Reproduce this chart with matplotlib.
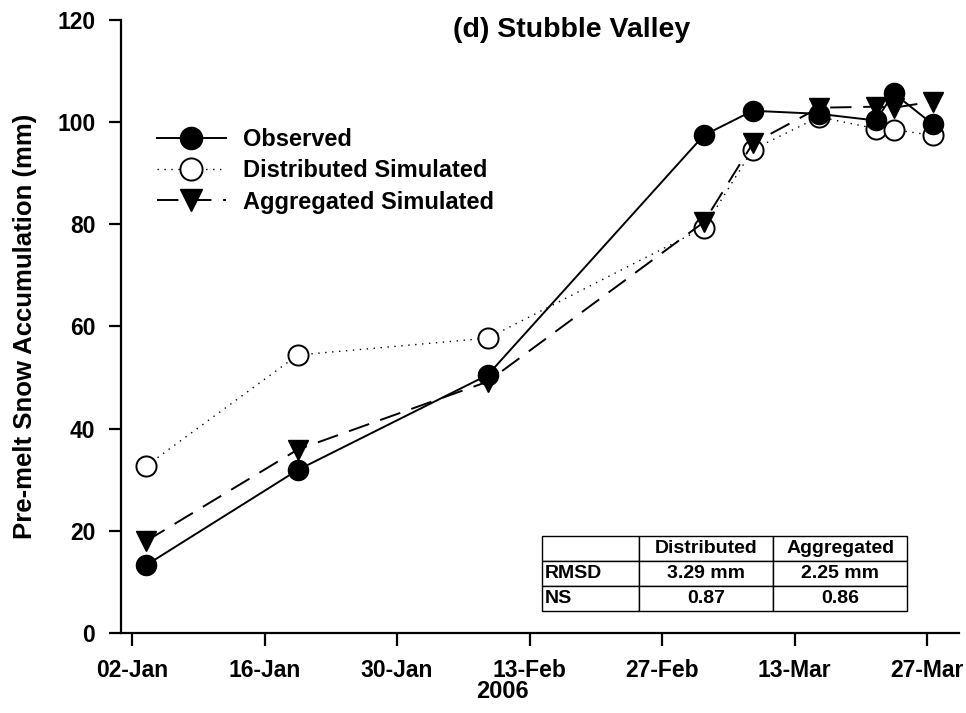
import numpy as np
import pandas as pd
import matplotlib
matplotlib.use("Agg")
import matplotlib.pyplot as plt
import matplotlib.dates as mdates

plt.rcParams['font.family'] = ['Liberation Sans', 'DejaVu Sans']
plt.rcParams['font.weight'] = 'bold'

# survey dates (points sit about half a day after the tick dates)
dates = pd.to_datetime(["2006-01-03 12:00", "2006-01-19 12:00", "2006-02-08 14:00",
                        "2006-03-03 10:00", "2006-03-08 14:00", "2006-03-15 14:00",
                        "2006-03-21 14:00", "2006-03-23 12:00", "2006-03-27 14:00"])
observed = [13.3, 31.9, 50.5, 97.4, 102.2, 101.6, 100.3, 105.6, 99.6]
distributed = [32.7, 54.4, 57.7, 79.3, 94.6, 101.0, 98.7, 98.5, 97.4]
aggregated = [18.0, 35.9, 49.2, 80.4, 95.8, 102.8, 103.0, 102.8, 104.0]

tick_dates = pd.to_datetime(["2006-01-02", "2006-01-16", "2006-01-30", "2006-02-13",
                             "2006-02-27", "2006-03-13", "2006-03-27"])

table_cols = ["", "Distributed", "Aggregated"]
table_rows = [["RMSD", "3.29 mm", "2.25 mm"],
              ["NS", "0.87", "0.86"]]

fig = plt.figure(figsize=(9.66, 7.13), dpi=100)
ax = fig.add_axes([0.1253, 0.1122, 0.867, 0.86])

ms = 14.5
ax.plot(dates, observed, color='black', lw=1.4, ls='-', marker='o', ms=ms,
        mfc='black', mec='black', label='Observed', zorder=3)
ax.plot(dates, distributed, color='black', lw=1.0, ls=(0, (1, 4)), marker='o', ms=ms,
        mfc='white', mec='black', mew=1.4, label='Distributed Simulated', zorder=2)
ax.plot(dates, aggregated, color='black', lw=1.4, ls=(0, (11, 6)), marker='v', ms=ms,
        mfc='black', mec='black', label='Aggregated Simulated', zorder=4)

ax.set_ylim(0, 120)
ax.set_yticks(np.arange(0, 121, 20))
ax.set_xlim(pd.Timestamp("2006-01-01 00:00") - pd.Timedelta(hours=4),
            pd.Timestamp("2006-03-30 08:00"))
ax.set_xticks(tick_dates)
ax.xaxis.set_major_formatter(mdates.DateFormatter("%d-%b"))

for s in ['top', 'right']:
    ax.spines[s].set_visible(False)
for s in ['left', 'bottom']:
    ax.spines[s].set_linewidth(1.6)
ax.tick_params(axis='both', direction='out', length=9, width=1.6, labelsize=16.5, pad=9.5)
for lab in ax.get_xticklabels() + ax.get_yticklabels():
    lab.set_fontweight('bold')

fig.text(25 / 966, 1 - 326 / 713, "Pre-melt Snow Accumulation (mm)", rotation=90,
         ha='center', va='center', fontsize=18.5, fontweight='bold')
fig.text(502 / 966, 1 - 692 / 713, "2006", ha='center', va='center',
         fontsize=17, fontweight='bold')
fig.text(572 / 966, 1 - 30 / 713, "(d) Stubble Valley", ha='center', va='center',
         fontsize=20.5, fontweight='bold')

leg = ax.legend(loc='upper left', bbox_to_anchor=(0.043, 0.8235), frameon=False,
                borderpad=0, borderaxespad=0, markerscale=1.1,
                fontsize=17, handlelength=2.9, handletextpad=0.76, labelspacing=0.35)
for t in leg.get_texts():
    t.set_fontweight('bold')

cell_text = [table_cols] + table_rows
tbl = ax.table(cellText=cell_text, colWidths=[97.3, 134, 133.7],
               bbox=[0.5026, 0.0359, 0.436, 0.122], cellLoc='center')
tbl.auto_set_font_size(False)
tbl.set_fontsize(14)
for (r, c), cell in tbl.get_celld().items():
    cell.set_linewidth(1.0)
    cell.get_text().set_fontweight('bold')
    if c == 0:
        cell.get_text().set_ha('left')
        cell._loc = 'left'
        cell.PAD = 0.03

fig.savefig("out.png", dpi=100)
